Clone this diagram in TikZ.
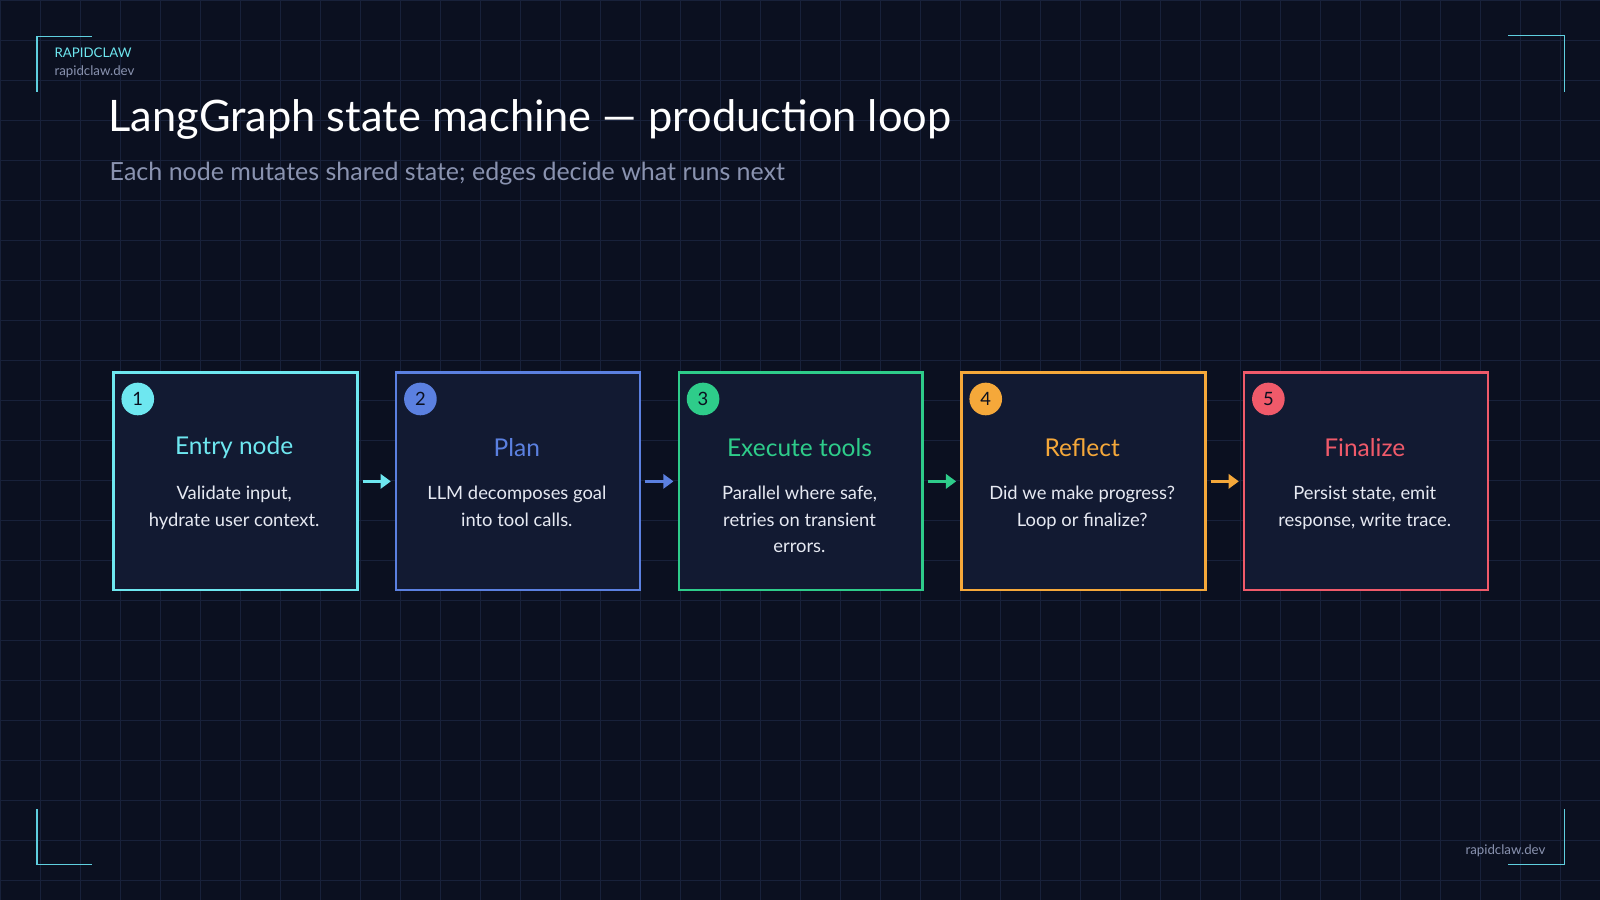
\documentclass[tikz,border=0pt]{standalone}
\usepackage{fontspec}
\setmainfont{Lato}
\usetikzlibrary{arrows.meta}
\definecolor{bg}{HTML}{0B1020}
\definecolor{gridc}{HTML}{18213A}
\definecolor{boxf}{HTML}{121A32}
\definecolor{cA}{HTML}{6EE7F0}
\definecolor{cB}{HTML}{5B80E0}
\definecolor{cC}{HTML}{2ECC8A}
\definecolor{cD}{HTML}{F5A83A}
\definecolor{cE}{HTML}{F05A6A}
\definecolor{subc}{HTML}{8A93B0}
\definecolor{bodyc}{HTML}{E6E9F2}
\definecolor{brk}{HTML}{5FCFDF}
\begin{document}
\begin{tikzpicture}[x=1pt,y=-1pt,
  stagebox/.style={draw=#1,line width=2.5pt,fill=boxf,minimum width=239pt,minimum height=213pt,inner sep=0pt},
  badge/.style={circle,fill=#1,minimum size=32pt,inner sep=0pt,font=\fontsize{18}{18}\selectfont,text=bg},
  stitle/.style={text=#1,font=\fontsize{24}{26}\selectfont},
  sbody/.style={text=bodyc,font=\fontsize{18}{26}\selectfont,align=center},
  flow/.style={draw=#1,line width=2.5pt,-{Triangle[length=10pt,width=14pt]}},
  bracket/.style={draw=brk,line width=1.5pt}]
\fill[bg] (0,0) rectangle (1568,882);
\useasboundingbox (0,0) rectangle (1568,882);
\foreach \i in {0,...,40} \draw[gridc,line width=0.8pt] (\i*39.2,0) -- (\i*39.2,882);
\foreach \j in {0,...,23} \draw[gridc,line width=0.8pt] (0,\j*39.2) -- (1568,\j*39.2);
% brackets
\draw[bracket] (90,36) -- (36,36) -- (36,90);
\draw[bracket] (1478,35) -- (1533,35) -- (1533,90);
\draw[bracket] (36,793) -- (36,847) -- (90,847);
\draw[bracket] (1533,793) -- (1533,847) -- (1478,847);
\node[anchor=west,text=cA,font=\fontsize{13}{13}\selectfont] (brand) at (50,52) {RAPIDCLAW};
\node[anchor=west,text=subc,font=\fontsize{13}{13}\selectfont] (site) at (50,70) {rapidclaw.dev};
\node[anchor=east,text=subc,font=\fontsize{13}{13}\selectfont] (site2) at (1518,834) {rapidclaw.dev};
\node[anchor=west,text=white,font=\fontsize{42.5}{42}\selectfont] (title) at (103,117) {LangGraph state machine — production loop};
\node[anchor=west,text=subc,font=\fontsize{24.5}{24}\selectfont] (sub) at (104,170) {Each node mutates shared state; edges decide what runs next};
\foreach \k/\c/\t/\b [count=\n] in {
  0/cA/Entry node/{Validate input,\\hydrate user context.},
  1/cB/Plan/{LLM decomposes goal\\into tool calls.},
  2/cC/Execute tools/{Parallel where safe,\\retries on transient\\errors.},
  3/cD/Reflect/{Did we make progress?\\Loop or finalize?},
  4/cE/Finalize/{Persist state, emit\\response, write trace.}} {
  \pgfmathsetmacro{\xl}{110+277*\k}
  \node[stagebox=\c,anchor=north west] (box\n) at (\xl,364) {};
  \node[badge=\c] (num\n) at (\xl+25,391) {\n};
  \node[stitle=\c] (t\n) at (\xl+119.5,439) {\t};
  \node[sbody,anchor=north] (b\n) at (\xl+119.5,473) {\b};
}
\foreach \a/\bb/\c in {1/2/cA,2/3/cB,3/4/cC,4/5/cD}
  \draw[flow=\c] ([xshift=4pt]box\a.east) -- ([xshift=-4pt]box\bb.west);
\end{tikzpicture}
\end{document}
